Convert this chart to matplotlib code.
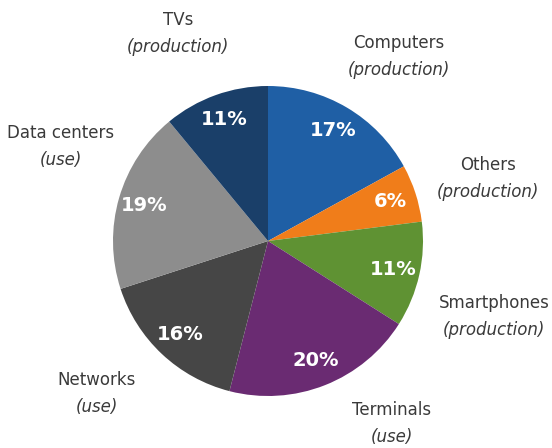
import matplotlib
matplotlib.use('Agg')
import matplotlib.pyplot as plt

# data
categories = ['Computers', 'Others', 'Smartphones', 'Terminals',
              'Networks', 'Data centers', 'TVs']
kinds = ['(production)', '(production)', '(production)', '(use)',
         '(use)', '(use)', '(production)']
shares = [17, 6, 11, 20, 16, 19, 11]
colors = ['#1f5fa5', '#f07d1a', '#5f9233', '#6a2b72',
          '#464646', '#8d8d8d', '#1a3f69']

# label centres in pixels (x, y of first line), measured from the top-left
label_px = [(399, 43), (488, 165), (494, 303), (392, 410),
            (97, 380), (61, 133), (178, 20)]

plt.rcParams['font.family'] = ['DejaVu Sans']

fig = plt.figure(figsize=(5.52, 4.48), dpi=100)
ax = fig.add_axes([0, 0, 1, 1])
ax.axis('off')

wedges, texts, autotexts = ax.pie(
    shares, colors=colors, startangle=90, counterclock=False,
    autopct='%d%%', pctdistance=0.83, radius=1.0,
    wedgeprops=dict(linewidth=0),
    textprops=dict(color='white', fontsize=14, fontweight='bold'))

# pie center at (268, 241) px, radius 155 px
r_px = 155.0
cx, cy = 268.0, 241.0
ax.set_aspect('auto')
ax.set_xlim(-cx / r_px, (552 - cx) / r_px)
ax.set_ylim(-(448 - cy) / r_px, cy / r_px)

# category labels outside the pie
for (px, py), name, kind in zip(label_px, categories, kinds):
    x = (px - cx) / r_px
    y = (cy - py) / r_px
    ax.text(x, y, name, ha='center', va='center',
            fontsize=12, color='#3a3a3a')
    ax.text(x, y - 27 / r_px, kind, ha='center', va='center',
            fontsize=12, color='#3a3a3a', style='italic')

fig.savefig('out.png', dpi=100)
